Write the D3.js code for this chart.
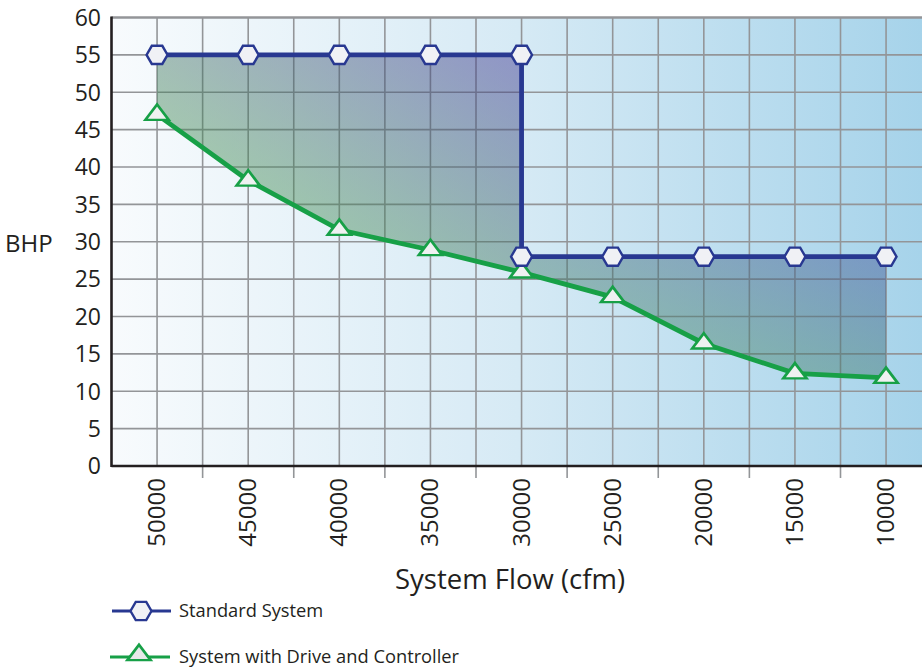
<!DOCTYPE html>
<html>
<head>
<meta charset="utf-8">
<script src="https://cdn.jsdelivr.net/npm/d3@7"></script>
<style>
  html, body { margin: 0; padding: 0; background: #fff; }
  svg { display: block; font-family: "Open Sans", sans-serif; }
</style>
</head>
<body>
<svg id="chart" width="922" height="671"></svg>
<script>
// ---- data ----
const flowCategories = ["50000", "45000", "40000", "35000", "30000", "25000", "20000", "15000", "10000"];
const yTickValues = [0, 5, 10, 15, 20, 25, 30, 35, 40, 45, 50, 55, 60];
const standardFlow = ["50000", "45000", "40000", "35000", "30000", "30000", "25000", "20000", "15000", "10000"];
const standardBHP = [55, 55, 55, 55, 55, 28, 28, 28, 28, 28];
const driveFlow = ["50000", "45000", "40000", "35000", "30000", "25000", "20000", "15000", "10000"];
const driveBHP = [47, 38.2, 31.6, 28.9, 25.9, 22.6, 16.4, 12.4, 11.8];
const seriesNames = ["Standard System", "System with Drive and Controller"];

// ---- layout ----
const svg = d3.select("#chart");
const pLeft = 111.5, pTop = 17.5, pBottom = 466;
const step = 91.125;
const pRight = pLeft + step * flowCategories.length;

const x = d3.scaleBand().domain(flowCategories).range([pLeft, pRight]).paddingInner(0).paddingOuter(0);
const cx = c => x(c) + x.bandwidth() / 2;
const y = d3.scaleLinear().domain([0, 60]).range([pBottom, pTop]);

const defs = svg.append("defs");
const bg = defs.append("linearGradient").attr("id", "bg")
  .attr("gradientUnits", "userSpaceOnUse")
  .attr("x1", pLeft).attr("y1", 0).attr("x2", 922).attr("y2", 0);
bg.append("stop").attr("offset", "0").attr("stop-color", "#f8fbfd");
bg.append("stop").attr("offset", "0.5").attr("stop-color", "#d6eaf5");
bg.append("stop").attr("offset", "1").attr("stop-color", "#a6d3ea");

function diagGradient(id, stops) {
  const g = defs.append("linearGradient").attr("id", id)
    .attr("x1", 0).attr("y1", 1).attr("x2", 1).attr("y2", 0);
  stops.forEach(s => g.append("stop").attr("offset", s[0]).attr("stop-color", s[1]));
}
diagGradient("fillLeft", [[0, "#3f9c52"], [0.3, "#43914f"], [1, "#3a2e8e"]]);
diagGradient("fillRight", [[0, "#3f9058"], [0.25, "#408a5a"], [1, "#3d5096"]]);

// background
svg.append("rect").attr("x", pLeft).attr("y", pTop).attr("width", pRight - pLeft).attr("height", pBottom - pTop)
  .attr("fill", "url(#bg)");

// grid
const gridColor = "#939598";
const vLines = [];
flowCategories.forEach(c => { vLines.push(x(c)); vLines.push(cx(c)); });
vLines.push(pRight);
svg.append("g").selectAll("line").data(vLines.filter(v => v > pLeft + 1)).join("line")
  .attr("x1", d => d).attr("x2", d => d).attr("y1", pTop).attr("y2", pBottom)
  .attr("stroke", gridColor).attr("stroke-width", 1.6);
svg.append("g").selectAll("line").data(yTickValues.filter(v => v > 0)).join("line")
  .attr("x1", pLeft).attr("x2", pRight).attr("y1", d => y(d)).attr("y2", d => y(d))
  .attr("stroke", gridColor).attr("stroke-width", d => d === 60 ? 2.6 : 1.6);

// x tick marks between categories (below axis)
svg.append("g").selectAll("line").data(flowCategories.slice(1).map(c => x(c))).join("line")
  .attr("x1", d => d).attr("x2", d => d).attr("y1", pBottom).attr("y2", pBottom + 12)
  .attr("stroke", gridColor).attr("stroke-width", 1.6);

// fill areas between lines (split at the step)
const stdPts = standardFlow.map((f, i) => [cx(f), y(standardBHP[i])]);
const drvPts = driveFlow.map((f, i) => [cx(f), y(driveBHP[i])]);
const stepIdx = 4; // index of 30000 in driveFlow
const leftPoly = stdPts.slice(0, stepIdx + 1).concat(drvPts.slice(0, stepIdx + 1).reverse());
const rightPoly = stdPts.slice(stepIdx + 1).concat(drvPts.slice(stepIdx).reverse());
svg.append("path").attr("d", d3.line()(leftPoly) + "Z")
  .attr("fill", "url(#fillLeft)").attr("fill-opacity", 0.45);
svg.append("path").attr("d", d3.line()(rightPoly) + "Z")
  .attr("fill", "url(#fillRight)").attr("fill-opacity", 0.45);

// axes lines
svg.append("line").attr("x1", pLeft).attr("x2", pLeft).attr("y1", pTop - 1).attr("y2", pBottom + 1)
  .attr("stroke", "#231f20").attr("stroke-width", 2.6);
svg.append("line").attr("x1", pLeft).attr("x2", pRight).attr("y1", pBottom).attr("y2", pBottom)
  .attr("stroke", "#231f20").attr("stroke-width", 2.6);

// y tick labels
svg.append("g").selectAll("text").data(yTickValues).join("text")
  .attr("x", 101).attr("y", d => y(d)).attr("dy", "0.36em")
  .attr("text-anchor", "end").attr("font-size", 23).attr("fill", "#231f20")
  .text(d => d);

// x tick labels (rotated)
svg.append("g").selectAll("text").data(flowCategories).join("text")
  .attr("transform", d => `translate(${cx(d) + 8},${pBottom + 12}) rotate(-90)`)
  .attr("text-anchor", "end").attr("font-size", 24).attr("fill", "#231f20")
  .text(d => d);

// axis titles
svg.append("text").attr("x", 5).attr("y", 252).attr("font-size", 24).attr("fill", "#231f20").text("BHP");
svg.append("text").attr("x", 510).attr("y", 589).attr("text-anchor", "middle").attr("font-size", 27.5)
  .attr("fill", "#231f20").text("System Flow (cfm)");

// lines
const blue = "#283891", green = "#17a047";
svg.append("path").attr("d", d3.line()(stdPts)).attr("fill", "none")
  .attr("stroke", blue).attr("stroke-width", 4.8);
svg.append("path").attr("d", d3.line()(drvPts)).attr("fill", "none")
  .attr("stroke", green).attr("stroke-width", 4.8);

// marker shapes
const hexPath = r => {
  const pts = d3.range(6).map(i => [r * Math.cos(i * Math.PI / 3), r * Math.sin(i * Math.PI / 3)]);
  return d3.line()(pts) + "Z";
};
const triPath = d3.symbol().type(d3.symbolTriangle).size(150)();

svg.append("g").selectAll("path").data(drvPts).join("path")
  .attr("transform", d => `translate(${d[0]},${d[1]}) scale(1.25,0.95)`)
  .attr("d", triPath).attr("fill", "#eff1f1").attr("stroke", green).attr("stroke-width", 2.4);
svg.append("g").selectAll("path").data(stdPts).join("path")
  .attr("transform", d => `translate(${d[0]},${d[1]})`)
  .attr("d", hexPath(10.5)).attr("fill", "#f0f1f5").attr("stroke", blue).attr("stroke-width", 2.4);

// legend
const leg = svg.append("g");
leg.append("line").attr("x1", 112).attr("x2", 171).attr("y1", 611).attr("y2", 611).attr("stroke", blue).attr("stroke-width", 3);
leg.append("path").attr("transform", "translate(141,611)").attr("d", hexPath(10.5))
  .attr("fill", "#f0f1f5").attr("stroke", blue).attr("stroke-width", 2.4);
leg.append("text").attr("x", 179).attr("y", 611).attr("dy", "0.35em").attr("font-size", 18.3).attr("fill", "#231f20").text(seriesNames[0]);
leg.append("line").attr("x1", 110).attr("x2", 170).attr("y1", 657).attr("y2", 657).attr("stroke", green).attr("stroke-width", 3);
leg.append("path").attr("transform", "translate(139,655) scale(1.25,0.95)").attr("d", triPath)
  .attr("fill", "#e6e9ea").attr("stroke", green).attr("stroke-width", 2.4);
leg.append("text").attr("x", 179).attr("y", 657).attr("dy", "0.35em").attr("font-size", 18.3).attr("fill", "#231f20").text(seriesNames[1]);
</script>
</body>
</html>
